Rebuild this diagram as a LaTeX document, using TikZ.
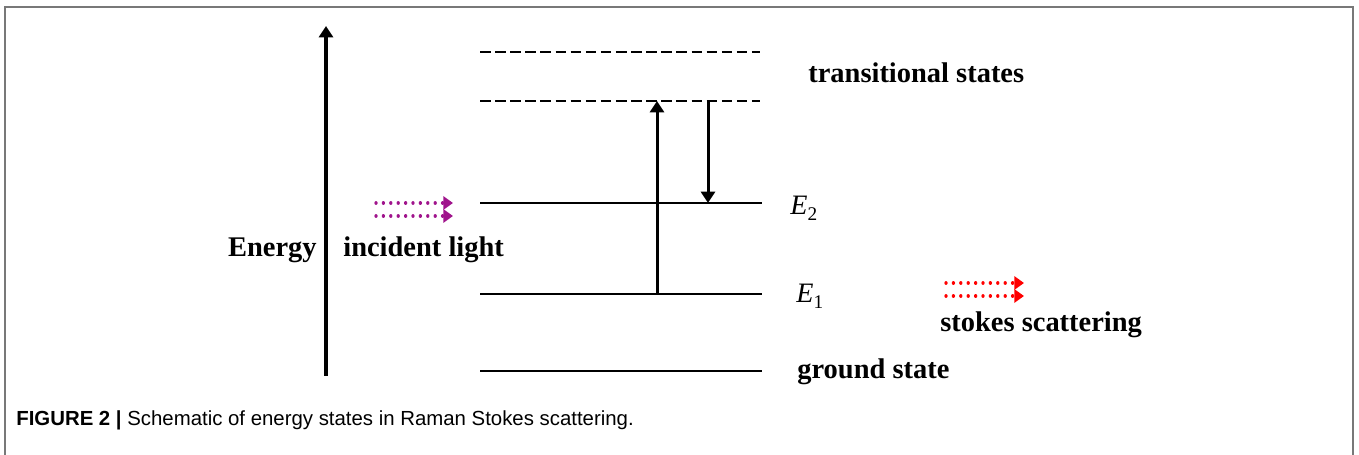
\documentclass[tikz,border=0pt]{standalone}
\usepackage{fontspec}
\setmainfont{Liberation Serif}
\setsansfont{Liberation Sans}
\usepackage{tikz}
\usetikzlibrary{arrows.meta}

\definecolor{incpurple}{RGB}{160,20,140}
\definecolor{framegray}{RGB}{120,120,120}

\newcommand{\elevel}[1]{\textit{E}\raisebox{-3.5pt}{\fontsize{11}{12}\selectfont #1}}

\begin{document}
\begin{tikzpicture}[
  x=0.02cm, y=-0.02cm,
  >={Triangle[length=6.5pt,width=8pt]},
  label/.style={font=\fontsize{16.2}{18}\selectfont\bfseries,inner sep=0pt},
  elabel/.style={font=\fontsize{16}{18}\selectfont,inner sep=0pt},
  level/.style={line width=1.7pt},
  virtual/.style={line width=1.7pt,dash pattern=on 6pt off 2.6pt},
  trans/.style={->,line width=1.7pt},
  beam/.style={-{Triangle[length=5.5pt,width=7.5pt]},line width=1.9pt,line cap=round,dash pattern=on 0.01pt off 4.2pt},
]

% ===================================================================
% Frame and caption
% ===================================================================
\useasboundingbox (0,0) rectangle (1359,455);
\draw[framegray,line width=0.9pt] (5,455) -- (5,7) -- (1353,7) -- (1353,455);
\node[font=\sffamily\fontsize{11.6}{13}\selectfont,anchor=west,inner sep=0pt] (caption) at (16,420)
  {\textbf{FIGURE 2 |} Schematic of energy states in Raman Stokes scattering.};

% ===================================================================
% Energy axis
% ===================================================================
\coordinate (ebot) at (326,376);
\coordinate (etop) at (326,26);
\draw[trans,line width=1.9pt] (ebot) -- (etop);
\node[label,anchor=east] (energy) at (317,250) {Energy};
\node[label,anchor=west] (incident) at (343,250) {incident light};

% ===================================================================
% Levels
% ===================================================================
\coordinate (v2l) at (480,52);  \coordinate (v2r) at (760,52);
\coordinate (v1l) at (480,101); \coordinate (v1r) at (760,101);
\coordinate (e2l) at (480,203); \coordinate (e2r) at (762,203);
\coordinate (e1l) at (480,294); \coordinate (e1r) at (762,294);
\coordinate (gl)  at (480,371); \coordinate (gr)  at (762,371);

\draw[virtual] (v2l) -- (v2r);
\draw[virtual] (v1l) -- (v1r);
\draw[level] (e2l) -- (e2r);
\draw[level] (e1l) -- (e1r);
\draw[level] (gl) -- (gr);

\node[label,anchor=west] (trlabel) at (808,73) {transitional states};
\node[elabel,anchor=west] (e2) at (790,208) {\elevel{2}};
\node[elabel,anchor=west] (e1) at (796,296) {\elevel{1}};
\node[label,anchor=west] (ground) at (797,372) {ground state};

% ===================================================================
% Transitions
% ===================================================================
\coordinate (upfrom) at (657,294);
\coordinate (upto) at (657,101);
\coordinate (downfrom) at (708,101);
\coordinate (downto) at (708,203);
\draw[trans] (upfrom) -- (upto);
\draw[trans] (downfrom) -- (downto);

% ===================================================================
% Light beams
% ===================================================================
\foreach \y in {203,216} {
  \draw[beam,incpurple] (376,\y) -- (453,\y);
  \draw[beam,red] (946,\y+80) -- (1024,\y+80);
}
\node[label,anchor=west] (stokes) at (940,325) {stokes scattering};

\end{tikzpicture}
\end{document}
